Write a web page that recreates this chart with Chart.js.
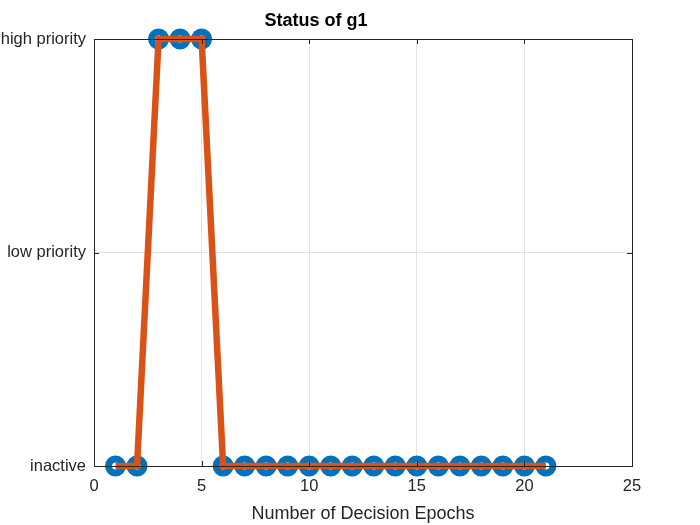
<!DOCTYPE html>
<html>
<head>
<meta charset="utf-8">
<script src="https://cdn.jsdelivr.net/npm/chart.js@4"></script>
<style>
  html, body { margin: 0; padding: 0; background: #fff; }
  #wrap { width: 700px; height: 525px; }
</style>
</head>
<body>
<div id="wrap"><canvas id="myChart" width="700" height="525"></canvas></div>
<script>
// values
var epochs = [1, 2, 3, 4, 5, 6, 7, 8, 9, 10, 11, 12, 13, 14, 15, 16, 17, 18, 19, 20, 21];
var g1Status = [0, 0, 2, 2, 2, 0, 0, 0, 0, 0, 0, 0, 0, 0, 0, 0, 0, 0, 0, 0, 0];
var statusLabels = ["inactive", "low priority", "high priority"];
var xTicks = [0, 5, 10, 15, 20, 25];

var points = epochs.map(function (e, i) { return { x: e, y: g1Status[i] }; });
var txt = "#262626";
var fam = "'Liberation Sans', Arial, Helvetica, sans-serif";

// box round the axes and inward ticks, matlab style
var boxPlugin = {
    id: "box",
    afterDraw: function (chart) {
        var a = chart.chartArea, c = chart.ctx;
        c.save();
        c.strokeStyle = txt;
        c.lineWidth = 1;
        c.beginPath();
        xTicks.forEach(function (t) {
            var px = Math.round(chart.scales.x.getPixelForValue(t)) + 0.5;
            c.moveTo(px, a.bottom); c.lineTo(px, a.bottom - 5);
            c.moveTo(px, a.top); c.lineTo(px, a.top + 5);
        });
        [0, 1, 2].forEach(function (t) {
            var py = Math.round(chart.scales.y.getPixelForValue(t)) + 0.5;
            c.moveTo(a.left, py); c.lineTo(a.left + 5, py);
            c.moveTo(a.right, py); c.lineTo(a.right - 5, py);
        });
        c.stroke();
        c.strokeRect(Math.round(a.left) + 0.5, Math.round(a.top) + 0.5,
            Math.round(a.right - a.left), Math.round(a.bottom - a.top));
        c.restore();
    }
};

var ctx = document.getElementById("myChart").getContext("2d");
var myChart = new Chart(ctx, {
    type: "line",
    data: {
        datasets: [
            {
                label: "line",
                data: points,
                borderColor: "#D95319",
                borderWidth: 6.5,
                pointRadius: 0,
                fill: false,
                tension: 0,
                clip: false,
                order: 0
            },
            {
                label: "markers",
                data: points,
                showLine: false,
                pointStyle: "circle",
                pointRadius: 7,
                pointBorderWidth: 7,
                pointBorderColor: "#0072BD",
                pointBackgroundColor: "#ffffff",
                clip: false,
                order: 1
            }
        ]
    },
    plugins: [boxPlugin],
    options: {
        responsive: false,
        animation: false,
        layout: { padding: { left: 0, right: 68, top: 0, bottom: 0 } },
        plugins: {
            legend: { display: false },
            tooltip: { enabled: false },
            title: {
                display: true,
                text: "Status of g1",
                color: "#000",
                font: { family: fam, size: 18, weight: "bold" },
                padding: { top: 10, bottom: 7.4 }
            }
        },
        scales: {
            x: {
                type: "linear",
                min: 0,
                max: 25,
                afterBuildTicks: function (scale) {
                    scale.ticks = xTicks.map(function (v) { return { value: v }; });
                },
                afterFit: function (scale) { scale.height = 59; },
                grid: { color: "#e3e3e3", drawTicks: false },
                border: { display: false },
                ticks: {
                    color: txt,
                    padding: 11,
                    maxRotation: 0,
                    font: { family: fam, size: 16.5 }
                },
                title: {
                    display: true,
                    text: "Number of Decision Epochs",
                    color: txt,
                    padding: { top: 0, bottom: 0 },
                    font: { family: fam, size: 18 }
                }
            },
            y: {
                type: "linear",
                min: 0,
                max: 2,
                afterFit: function (scale) { scale.width = 94; },
                grid: { color: "#e3e3e3", drawTicks: false },
                border: { display: false },
                ticks: {
                    stepSize: 1,
                    color: txt,
                    padding: 8,
                    font: { family: fam, size: 16.5 },
                    callback: function (v) { return statusLabels[v]; }
                }
            }
        }
    }
});
</script>
</body>
</html>
